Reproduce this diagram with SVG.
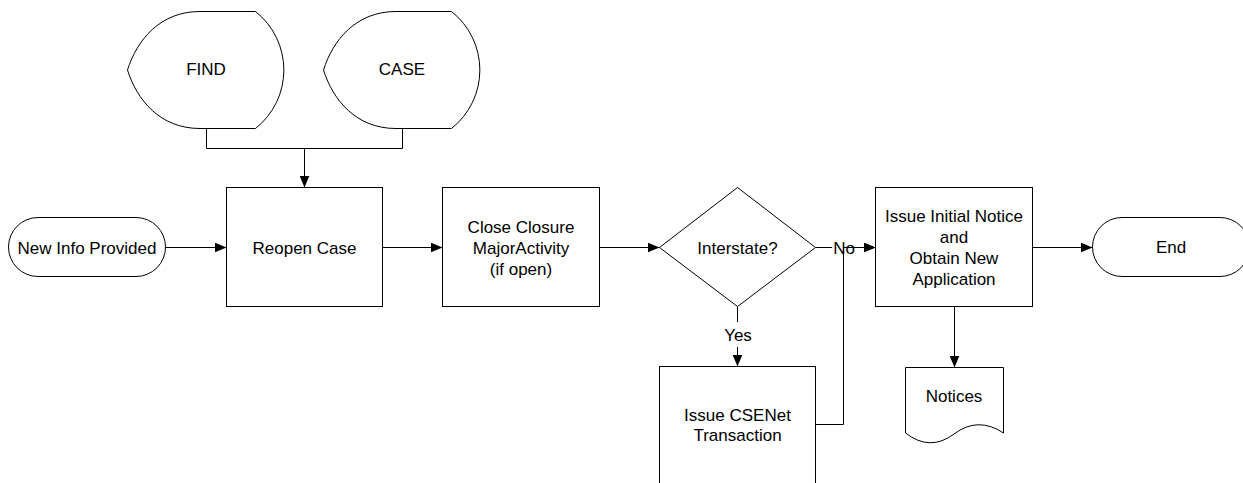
<svg xmlns="http://www.w3.org/2000/svg" width="1243" height="483" viewBox="0 0 1243 483">
  <defs>
    <style>
      .shape { fill: #ffffff; stroke: #000000; stroke-width: 1; }
      .wire { fill: none; stroke: #000000; stroke-width: 1; }
      .arrow { marker-end: url(#head); }
      text { font-family: "Liberation Sans", Arial, sans-serif; font-size: 17px; fill: #000000; text-anchor: middle; }
      .tag { fill: #ffffff; stroke: none; }
    </style>
    <marker id="head" markerUnits="userSpaceOnUse" markerWidth="12" markerHeight="10" refX="12" refY="5" orient="auto">
      <path d="M0,0 L12,5 L0,10 Z" fill="#000000"/>
    </marker>
    <!-- display symbol: pointed curved left side, circular arc on the right -->
    <path id="display" d="M127.5,70 C137,40 160,11.5 200,11.5 L255.5,11.5 A74.5,74.5 0 0 1 255.5,128.5 L200,128.5 C160,128.5 137,100 127.5,70 Z"/>
  </defs>

  <!-- connectors -->
  <g id="connectors">
    <path class="wire" d="M206.5,128.5 V148.5 H402.5 V128.5"/>
    <path class="wire arrow" d="M304.5,148.5 V187.5"/>
    <path class="wire arrow" d="M165.5,247.5 H226.5"/>
    <path class="wire arrow" d="M382.5,247.5 H442.5"/>
    <path class="wire arrow" d="M599.5,247.5 H659.5"/>
    <path class="wire arrow" d="M815.5,247.5 H875.5"/>
    <rect class="tag" x="832" y="240" width="24" height="16"/>
    <text x="844" y="254">No</text>
    <path class="wire arrow" d="M815.5,424.5 H843.5 V247.5 H875.5"/>
    <path class="wire" d="M737.5,306.5 V322"/>
    <text x="738" y="340.5">Yes</text>
    <path class="wire arrow" d="M737.5,347 V366.5"/>
    <path class="wire arrow" d="M1032.5,247.5 H1092.5"/>
    <path class="wire arrow" d="M954.5,306.5 V367.5"/>
  </g>

  <g id="find">
    <use href="#display" class="shape"/>
    <text x="206" y="75">FIND</text>
  </g>

  <g id="case">
    <use href="#display" class="shape" transform="translate(196,0)"/>
    <text x="402" y="75">CASE</text>
  </g>

  <g id="new-info">
    <rect class="shape" x="8.5" y="217.5" width="157" height="59" rx="29.5" ry="29.5"/>
    <text x="87" y="253.5">New Info Provided</text>
  </g>

  <g id="reopen-case">
    <rect class="shape" x="226.5" y="187.5" width="156" height="119"/>
    <text x="304.5" y="253.5">Reopen Case</text>
  </g>

  <g id="close-closure">
    <rect class="shape" x="442.5" y="187.5" width="157" height="119"/>
    <text x="521" y="232.5">Close Closure</text>
    <text x="521" y="253.5">MajorActivity</text>
    <text x="521" y="274.5">(if open)</text>
  </g>

  <g id="interstate">
    <path class="shape" d="M659.5,247.5 L737.5,187.5 L815.5,247.5 L737.5,306.5 Z"/>
    <text x="737.5" y="253.5">Interstate?</text>
  </g>

  <g id="csenet">
    <rect class="shape" x="659.5" y="366.5" width="156" height="119"/>
    <text x="737.5" y="420.5">Issue CSENet</text>
    <text x="737.5" y="440.5">Transaction</text>
  </g>

  <g id="initial-notice">
    <rect class="shape" x="875.5" y="187.5" width="157" height="119"/>
    <text x="954" y="222">Issue Initial Notice</text>
    <text x="954" y="243">and</text>
    <text x="954" y="263.5">Obtain New</text>
    <text x="954" y="284.5">Application</text>
  </g>

  <g id="notices">
    <path class="shape" d="M905.5,367.5 H1003.5 V433 Q978,416 954,434 Q930,452 905.5,433 Z"/>
    <text x="954" y="401.5">Notices</text>
  </g>

  <g id="end">
    <rect class="shape" x="1092.5" y="217.5" width="157" height="59" rx="29.5" ry="29.5"/>
    <text x="1171" y="253">End</text>
  </g>
</svg>
